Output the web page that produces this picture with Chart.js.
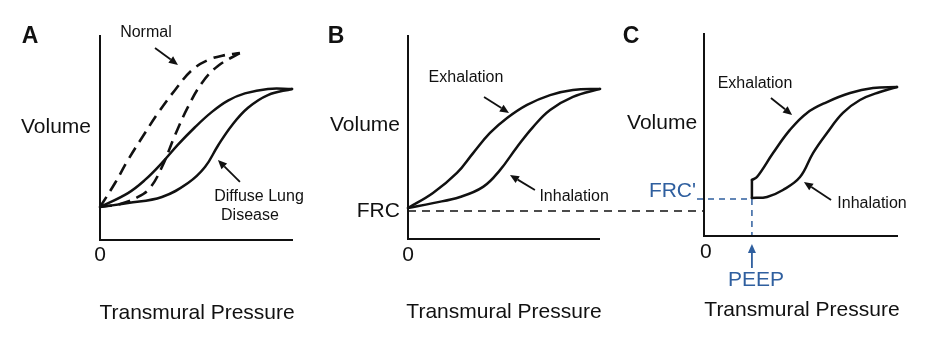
<!DOCTYPE html>
<html>
<head>
<meta charset="utf-8">
<script src="https://cdn.jsdelivr.net/npm/chart.js@4.4.1/dist/chart.umd.min.js"></script>
<style>
  html, body { margin: 0; padding: 0; background: #fff; }
  #wrap { position: relative; width: 936px; height: 344px; }
</style>
</head>
<body>
<div id="wrap"><canvas id="chart"></canvas></div>
<script>
// Pressure (x) / volume (y) readings, arbitrary units, one axis unit ~ 1/10 of the plot box

// Panel A: diffuse lung disease loop and normal loop
const diffuseExhA = [[0, 1.61], [1.45, 2.29], [2.33, 2.93], [3.21, 3.76], [4.04, 4.65], [4.92, 5.50],
                     [5.80, 6.25], [6.63, 6.80], [7.51, 7.15], [8.70, 7.37], [9.95, 7.37]];
const diffuseInhA = [[0, 1.61], [1.45, 1.80], [3.21, 2.10], [4.56, 2.78], [5.44, 3.56], [6.11, 4.60],
                     [6.84, 5.60], [7.67, 6.45], [8.70, 7.07], [9.95, 7.37]];
const normalExhA = [[0, 1.61], [0.78, 2.78], [1.45, 3.90], [2.33, 5.22], [3.01, 6.20], [3.89, 7.32],
                    [4.77, 8.29], [5.60, 8.78], [6.48, 9.02], [7.25, 9.12]];
const normalInhA = [[0, 1.61], [1.04, 1.76], [1.97, 2.10], [2.59, 2.54], [3.21, 3.56], [3.89, 5.12],
                    [4.56, 6.49], [5.28, 7.66], [6.11, 8.49], [7.25, 9.12]];

// Panel B: normal loop starting at FRC
const exhB = [[0, 1.56], [1.30, 2.29], [2.55, 3.27], [3.39, 4.24], [4.27, 5.22], [5.16, 5.95],
              [6.20, 6.59], [7.40, 7.07], [8.59, 7.32], [10.0, 7.37]];
const inhB = [[0, 1.56], [1.30, 1.80], [2.71, 2.10], [3.91, 2.59], [4.79, 3.41], [5.68, 4.54],
              [6.51, 5.51], [7.40, 6.34], [8.59, 6.98], [10.0, 7.37]];
const frcLevel = 1.42;
const frcLineEndB = 15.4;

// Panel C: loop shifted by PEEP
const peep = 2.47;
const frcPrime = 2.0;
const stepC = [[2.47, 2.05], [2.47, 2.93]];
const exhC = [[2.47, 2.93], [2.73, 3.07], [3.56, 4.24], [4.43, 5.37], [5.31, 6.20],
              [6.34, 6.73], [7.53, 7.17], [8.71, 7.41], [9.95, 7.46]];
const inhC = [[2.47, 2.05], [3.25, 2.10], [4.07, 2.44], [4.95, 3.07], [5.62, 4.24], [6.34, 5.22],
              [7.16, 6.20], [8.04, 6.83], [9.07, 7.22], [9.95, 7.46]];

// axis frames [top of y axis, y of x axis, end of x axis]
const axisA = [10.0, 0.0, 10.0];
const axisB = [10.0, 0.05, 10.0];
const axisC = [10.1, 0.2, 10.0];

// page layout: pixel origin and pixel size of one unit for each panel
const W = 936, H = 344;
const Y0 = 240, UY = 20.5;
const panels = {
    xA: { x0: 100, ux: 19.3 },
    xB: { x0: 408, ux: 19.2 },
    xC: { x0: 704, ux: 19.4 }
};

const BLACK = '#111111';
const BLUE = '#2f5f9f';
const FONT = "'Liberation Sans', Arial, Helvetica, sans-serif";

const pts = arr => arr.map(p => ({ x: p[0], y: p[1] }));

function line(data, axis, opts = {}) {
    return Object.assign({
        data: pts(data),
        xAxisID: axis,
        yAxisID: 'y',
        showLine: true,
        pointRadius: 0,
        borderColor: BLACK,
        borderWidth: 2.5,
        fill: false,
        tension: 0.4,
        borderCapStyle: 'round',
        borderJoinStyle: 'round',
        clip: false
    }, opts);
}

function frame(ax, axis) {
    return line([[0, ax[0]], [0, ax[1]], [ax[2], ax[1]]], axis, {
        tension: 0, borderWidth: 2, borderJoinStyle: 'miter', borderCapStyle: 'butt'
    });
}

const dashed = { tension: 0, borderCapStyle: 'butt', borderWidth: 1.5 };

const datasets = [
    frame(axisA, 'xA'), frame(axisB, 'xB'), frame(axisC, 'xC'),
    line(diffuseExhA, 'xA'),
    line(diffuseInhA, 'xA'),
    line(normalExhA, 'xA', { borderDash: [12, 7], borderWidth: 2.6, borderCapStyle: 'butt' }),
    line(normalInhA, 'xA', { borderDash: [12, 7], borderWidth: 2.6, borderCapStyle: 'butt' }),
    line(exhB, 'xB'),
    line(inhB, 'xB'),
    line([[0, frcLevel], [frcLineEndB, frcLevel]], 'xB', Object.assign({ borderDash: [8, 6] }, dashed)),
    line([[-0.36, frcPrime], [peep, frcPrime]], 'xC', Object.assign({ borderDash: [6, 5], borderColor: BLUE }, dashed)),
    line([[peep, frcPrime], [peep, axisC[1]]], 'xC', Object.assign({ borderDash: [6, 5], borderColor: BLUE }, dashed)),
    line(stepC, 'xC', { tension: 0 }),
    line(exhC, 'xC'),
    line(inhC, 'xC')
];

// text labels: [x axis, x, y, text, size, bold, colour, align]
const labels = [
    ['xA', -3.63, 9.90, 'A', 23, true, BLACK, 'center'],
    ['xA', -2.28, 5.51, 'Volume', 21, false, BLACK, 'center'],
    ['xA', 0, -0.73, '0', 21, false, BLACK, 'center'],
    ['xA', 5.03, -3.56, 'Transmural Pressure', 21, false, BLACK, 'center'],
    ['xA', 2.38, 10.10, 'Normal', 16, false, BLACK, 'center'],
    ['xA', 8.24, 2.10, 'Diffuse Lung', 16, false, BLACK, 'center'],
    ['xA', 7.77, 1.17, 'Disease', 16, false, BLACK, 'center'],
    ['xB', -3.75, 9.90, 'B', 23, true, BLACK, 'center'],
    ['xB', -2.24, 5.61, 'Volume', 21, false, BLACK, 'center'],
    ['xB', -0.42, 1.41, 'FRC', 21, false, BLACK, 'right'],
    ['xB', 0, -0.73, '0', 21, false, BLACK, 'center'],
    ['xB', 5.0, -3.51, 'Transmural Pressure', 21, false, BLACK, 'center'],
    ['xB', 3.02, 7.90, 'Exhalation', 16, false, BLACK, 'center'],
    ['xB', 8.65, 2.10, 'Inhalation', 16, false, BLACK, 'center'],
    ['xC', -3.76, 9.90, 'C', 23, true, BLACK, 'center'],
    ['xC', -2.16, 5.71, 'Volume', 21, false, BLACK, 'center'],
    ['xC', 0.1, -0.59, '0', 21, false, BLACK, 'center'],
    ['xC', 5.05, -3.41, 'Transmural Pressure', 21, false, BLACK, 'center'],
    ['xC', 2.63, 7.61, 'Exhalation', 16, false, BLACK, 'center'],
    ['xC', 8.66, 1.76, 'Inhalation', 16, false, BLACK, 'center'],
    ['xC', -0.41, 2.39, "FRC'", 21, false, BLUE, 'right'],
    ['xC', 2.68, -1.95, 'PEEP', 21, false, BLUE, 'center']
];

// pointer arrows: [x axis, from x, from y, to x, to y, colour]
const arrows = [
    ['xA', 2.85, 9.37, 4.04, 8.54, BLACK],
    ['xA', 7.25, 2.83, 6.11, 3.90, BLACK],
    ['xB', 3.96, 6.98, 5.26, 6.20, BLACK],
    ['xB', 6.61, 2.44, 5.31, 3.17, BLACK],
    ['xC', 3.45, 6.93, 4.54, 6.10, BLACK],
    ['xC', 6.55, 1.95, 5.15, 2.83, BLACK],
    ['xC', peep, -1.37, peep, -0.20, BLUE]
];

const annotationPlugin = {
    id: 'annotations',
    afterDatasetsDraw(chart) {
        const ctx = chart.ctx;
        const ys = chart.scales.y;
        ctx.save();
        arrows.forEach(([ax, x1, y1, x2, y2, color]) => {
            const xs = chart.scales[ax];
            const px1 = xs.getPixelForValue(x1), py1 = ys.getPixelForValue(y1);
            const px2 = xs.getPixelForValue(x2), py2 = ys.getPixelForValue(y2);
            const ang = Math.atan2(py2 - py1, px2 - px1);
            const len = 9, half = 4;
            const bx = px2 - len * Math.cos(ang), by = py2 - len * Math.sin(ang);
            ctx.strokeStyle = color;
            ctx.fillStyle = color;
            ctx.lineWidth = 1.8;
            ctx.beginPath();
            ctx.moveTo(px1, py1);
            ctx.lineTo(bx, by);
            ctx.stroke();
            ctx.beginPath();
            ctx.moveTo(px2, py2);
            ctx.lineTo(bx + half * Math.sin(ang), by - half * Math.cos(ang));
            ctx.lineTo(bx - half * Math.sin(ang), by + half * Math.cos(ang));
            ctx.closePath();
            ctx.fill();
        });
        ctx.textBaseline = 'middle';
        labels.forEach(([ax, x, y, text, size, bold, color, align]) => {
            ctx.font = (bold ? 'bold ' : '') + size + 'px ' + FONT;
            ctx.fillStyle = color;
            ctx.textAlign = align;
            ctx.fillText(text, chart.scales[ax].getPixelForValue(x), ys.getPixelForValue(y));
        });
        ctx.restore();
    }
};

function xScale(p) {
    return { type: 'linear', display: false, min: -p.x0 / p.ux, max: (W - p.x0) / p.ux };
}

new Chart(document.getElementById('chart'), {
    type: 'scatter',
    data: { datasets: datasets },
    options: {
        responsive: true,
        maintainAspectRatio: false,
        animation: false,
        layout: { padding: 0 },
        plugins: { legend: { display: false }, tooltip: { enabled: false } },
        scales: {
            xA: xScale(panels.xA),
            xB: xScale(panels.xB),
            xC: xScale(panels.xC),
            y: { type: 'linear', display: false, min: Y0 / UY - H / UY, max: Y0 / UY }
        }
    },
    plugins: [annotationPlugin]
});
</script>
</body>
</html>
